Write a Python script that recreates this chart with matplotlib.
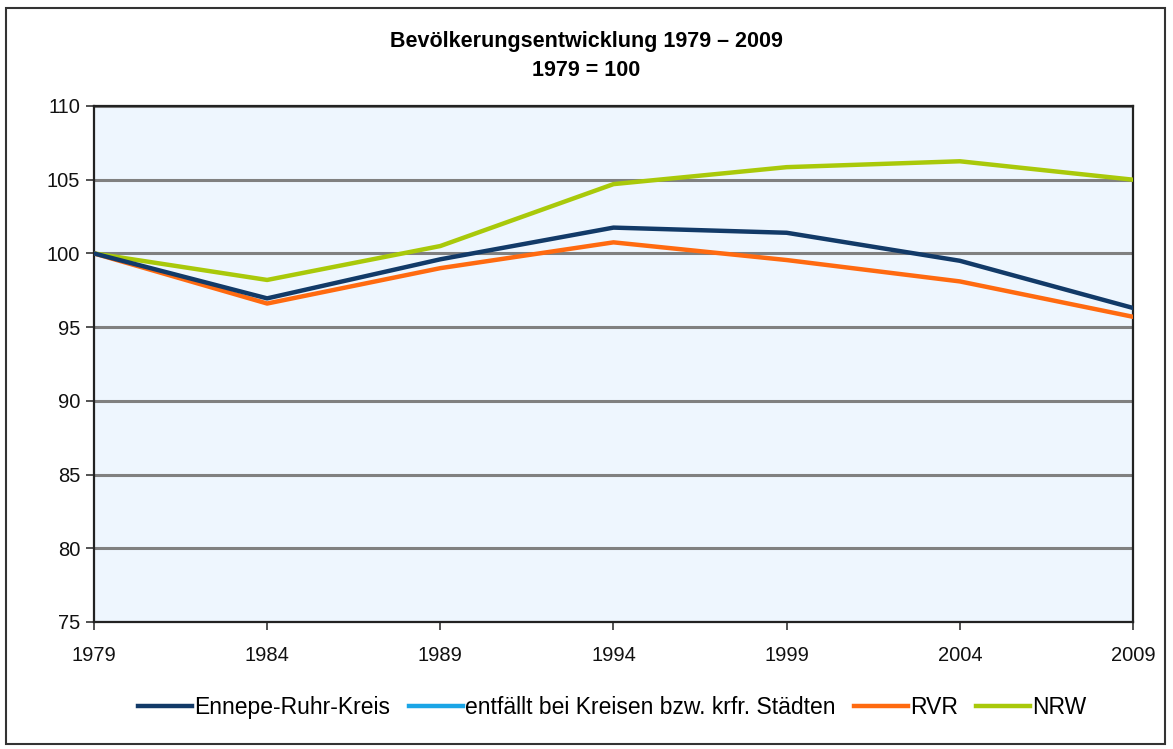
import matplotlib.pyplot as plt
from matplotlib.patches import Rectangle

plt.rcParams['font.family'] = ['Liberation Sans', 'DejaVu Sans']

years = [1979, 1984, 1989, 1994, 1999, 2004, 2009]
erk = [100, 96.95, 99.6, 101.75, 101.4, 99.5, 96.3]
rvr = [100, 96.6, 99.0, 100.75, 99.55, 98.1, 95.7]
nrw = [100, 98.2, 100.5, 104.7, 105.85, 106.25, 105.0]
yticks = [75, 80, 85, 90, 95, 100, 105, 110]

fig = plt.figure(figsize=(11.73, 7.49), dpi=100)
ax = fig.add_axes([0.0801, 0.1696, 0.8858, 0.6889])
ax.set_facecolor('#EEF6FE')

# aeusserer Rahmen
fig.patches.append(Rectangle((0.005, 0.007), 0.988, 0.982, transform=fig.transFigure,
                             fill=False, edgecolor='#333333', linewidth=1.5))

ax.plot(years, erk, color='#123A68', linewidth=3.2, label='Ennepe-Ruhr-Kreis', zorder=4)
ax.plot([], [], color='#1AA5E6', linewidth=3.2, label='entfällt bei Kreisen bzw. krfr. Städten')
ax.plot(years, rvr, color='#FF6A10', linewidth=3.2, label='RVR', zorder=3)
ax.plot(years, nrw, color='#A9C90A', linewidth=3.2, label='NRW', zorder=3)

ax.set_xlim(1979, 2009)
ax.set_ylim(75, 110)
ax.set_xticks(years)
ax.set_yticks(yticks)
ax.yaxis.grid(True, color='#808080', linewidth=2.2)
ax.set_axisbelow(True)
for s in ax.spines.values():
    s.set_color('#222222')
    s.set_linewidth(1.6)
ax.tick_params(axis='both', direction='out', length=6, width=1.3, color='#444444',
               labelsize=14.5, labelcolor='#111111')
ax.tick_params(axis='x', pad=11)
ax.tick_params(axis='y', pad=4)

fig.text(0.5, 0.944, 'Bevölkerungsentwicklung 1979 – 2009', ha='center', va='center',
         fontsize=15.5, fontweight='bold')
fig.text(0.5, 0.906, '1979 = 100', ha='center', va='center', fontsize=15.5, fontweight='bold')

ax.legend(loc='center', bbox_to_anchor=(0.522, 0.056), bbox_transform=fig.transFigure,
          ncol=4, frameon=False, fontsize=16.5, handlelength=2.35, handletextpad=0.1,
          columnspacing=0.8)

fig.savefig('out.png', dpi=100)
